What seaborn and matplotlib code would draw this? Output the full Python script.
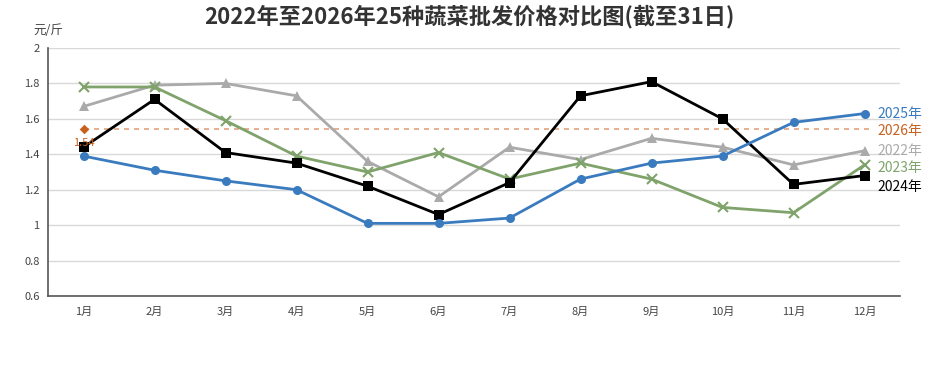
import pandas as pd
import seaborn as sns
import matplotlib.pyplot as plt

sns.set_theme(style="white")
plt.rcParams['font.family'] = ['Noto Sans CJK SC', 'DejaVu Sans']

months = ['1月', '2月', '3月', '4月', '5月', '6月', '7月', '8月', '9月', '10月', '11月', '12月']

v2022 = [1.67, 1.79, 1.80, 1.73, 1.36, 1.16, 1.44, 1.37, 1.49, 1.44, 1.34, 1.42]
v2023 = [1.78, 1.78, 1.59, 1.39, 1.30, 1.41, 1.26, 1.35, 1.26, 1.10, 1.07, 1.34]
v2024 = [1.44, 1.71, 1.41, 1.35, 1.22, 1.06, 1.24, 1.73, 1.81, 1.60, 1.23, 1.28]
v2025 = [1.39, 1.31, 1.25, 1.20, 1.01, 1.01, 1.04, 1.26, 1.35, 1.39, 1.58, 1.63]
v2026 = [1.54]

# style per series: colour, marker, marker size, label offset (pts)
styles = {
    '2022年': ('#aaaaaa', '^', 6.5, 0),
    '2023年': ('#7fa36b', 'x', 6.5, -2),
    '2024年': ('#000000', 's', 6.5, -8),
    '2025年': ('#3a7bbf', 'o', 6.5, 0),
}
series = {'2022年': v2022, '2023年': v2023, '2024年': v2024, '2025年': v2025}

fig = plt.figure(figsize=(9.38, 3.9), dpi=100)
ax = fig.add_axes([48 / 938, 94 / 390, 852 / 938, 248 / 390])

x = list(range(len(months)))
for name in ['2022年', '2023年', '2024年', '2025年']:
    color, marker, ms, dy = styles[name]
    sns.lineplot(x=x, y=series[name], ax=ax, color=color, marker=marker,
                 markersize=ms, linewidth=2, markeredgecolor=color,
                 markeredgewidth=1.5 if marker == 'x' else 0, zorder=3)
    ax.annotate(name, (x[-1], series[name][-1]), xytext=(9, dy),
                textcoords='offset points', color=color, fontsize=10,
                va='center', ha='left', annotation_clip=False)

# 2026: one point with dashed reference line
orange = '#c8611e'
ax.hlines(v2026[0], 0, 11.1, colors='#e0a27a', linestyles=(0, (3, 3)),
          linewidth=1.2, zorder=2)
sns.scatterplot(x=x[:len(v2026)], y=v2026, ax=ax, color=orange, marker='D',
                s=24, linewidth=0, zorder=4)
ax.annotate(f'{v2026[0]:.2f}', (0, v2026[0]), xytext=(0, -10),
            textcoords='offset points', color=orange, fontsize=8,
            ha='center', va='center', zorder=5)
ax.annotate('2026年', (x[-1], v2026[0]), xytext=(9, -1),
            textcoords='offset points', color=orange, fontsize=10,
            va='center', ha='left', annotation_clip=False)

ax.set_xlim(-0.5, 11.5)
ax.set_ylim(0.6, 2.0)
ax.set_yticks([0.6, 0.8, 1.0, 1.2, 1.4, 1.6, 1.8, 2.0])
ax.set_yticklabels(['0.6', '0.8', '1', '1.2', '1.4', '1.6', '1.8', '2'])
ax.set_xticks(x)
ax.set_xticklabels(months)
ax.set_xticks([i - 0.5 for i in range(13)], minor=True)
ax.tick_params(axis='x', which='major', length=0, labelsize=8, colors='#444444', pad=8)
ax.tick_params(axis='x', which='minor', length=4, width=1, color='#555555', direction='out')
ax.tick_params(axis='y', length=0, labelsize=8, colors='#444444', pad=6)
ax.grid(axis='y', color='#d9d9d9', linewidth=1)
ax.set_axisbelow(True)
for side in ['top', 'right']:
    ax.spines[side].set_visible(False)
for side in ['left', 'bottom']:
    ax.spines[side].set_color('#555555')
    ax.spines[side].set_linewidth(1.2)
ax.set_xlabel('')
ax.set_ylabel('')

fig.text(33 / 938, 1 - 30 / 390, '元/斤', fontsize=9, color='#444444', va='center', ha='left')
fig.text(469 / 938, 1 - 17 / 390, '2022年至2026年25种蔬菜批发价格对比图(截至31日)',
         fontsize=16, fontweight='bold', color='#333333', ha='center', va='center')

fig.savefig('out.png', dpi=100)
